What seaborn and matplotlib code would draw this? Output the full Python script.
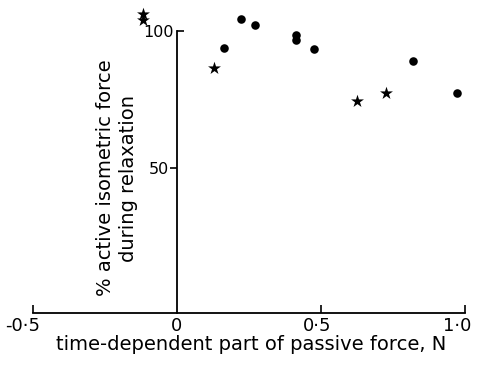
import matplotlib
matplotlib.use("Agg")
import matplotlib.pyplot as plt
import matplotlib.transforms as mtransforms
import seaborn as sns
import pandas as pd
from matplotlib.ticker import FixedLocator, FixedFormatter

# Data
circle_x = [0.163, 0.222, 0.271, 0.413, 0.413, 0.476, 0.819, 0.972]
circle_y = [93.8, 104.4, 102.2, 98.5, 96.7, 93.4, 89.0, 77.4]
star_x = [-0.118, -0.118, 0.128, 0.625, 0.726]
star_y = [106.2, 104.0, 86.5, 74.4, 77.4]

x_ticks = [-0.5, 0.5, 1.0]
x_tick_labels = ["-0·5", "0·5", "1·0"]
y_ticks = [50, 100]
y_tick_labels = ["50", "100"]

x_label = "time-dependent part of passive force, N"
y_label = "% active isometric force\nduring relaxation"

df = pd.DataFrame({
    "x": circle_x + star_x,
    "y": circle_y + star_y,
    "kind": ["circle"] * len(circle_x) + ["star"] * len(star_x),
})

sns.set_style("ticks")
plt.rcParams["font.family"] = ["DejaVu Sans"]
for k in ["text.color", "axes.labelcolor", "xtick.color", "ytick.color",
          "axes.edgecolor"]:
    plt.rcParams[k] = "black"

fig = plt.figure(figsize=(4.78, 3.65), dpi=100)
ax = fig.add_axes([33 / 478, 1 - 313 / 365, 432 / 478, 308 / 365])

sns.scatterplot(data=df[df.kind == "circle"], x="x", y="y", ax=ax,
                marker="o", s=38, color="black", edgecolor="black",
                linewidth=0, legend=False)
sns.scatterplot(data=df[df.kind == "star"], x="x", y="y", ax=ax,
                marker="*", s=95, color="black", edgecolor="black",
                linewidth=0, legend=False)

ymin, ymax = -2.9, 109.5
ax.set_xlim(-0.5, 1.0)
ax.set_ylim(ymin, ymax)

for s in ["top", "right"]:
    ax.spines[s].set_visible(False)
ax.spines["left"].set_position(("data", 0))
ax.spines["left"].set_bounds(ymin, 100)
ax.spines["left"].set_linewidth(1.3)
ax.spines["bottom"].set_linewidth(1.3)

# x ticks (pointing up); "0" label sits where the y axis crosses
ax.xaxis.set_major_locator(FixedLocator(x_ticks))
ax.xaxis.set_major_formatter(FixedFormatter(x_tick_labels))
ax.xaxis.set_minor_locator(FixedLocator([0.0]))
ax.xaxis.set_minor_formatter(FixedFormatter(["0"]))
ax.tick_params(axis="x", which="major", direction="in", length=6, width=1.2)
ax.tick_params(axis="x", which="minor", length=0)
ax.tick_params(axis="x", which="both", labelbottom=True, labelsize=13, pad=3)

# y ticks: 50 pointing out, 100 pointing in
ax.yaxis.set_major_locator(FixedLocator([y_ticks[0]]))
ax.yaxis.set_major_formatter(FixedFormatter([y_tick_labels[0]]))
ax.yaxis.set_minor_locator(FixedLocator([y_ticks[1]]))
ax.yaxis.set_minor_formatter(FixedFormatter([y_tick_labels[1]]))
ax.tick_params(axis="y", which="major", direction="out", length=5, width=1.2,
               labelsize=11.5, pad=1)
ax.tick_params(axis="y", which="minor", direction="in", length=5, width=1.2,
               labelsize=11.5, pad=2)

# small horizontal nudges of x tick labels, as in the reference
for tick, dx in zip(ax.xaxis.get_major_ticks(), [-10, -4, -8]):
    off = mtransforms.ScaledTranslation(dx / 100, 0, fig.dpi_scale_trans)
    tick.label1.set_transform(tick.label1.get_transform() + off)

ax.set_xlabel("")
ax.set_ylabel("")
fig.text(0.5 * (45 + 458) / 478, 1 - 345 / 365, x_label, ha="center",
         va="center", fontsize=14)
fig.text(117 / 478, 1 - 178 / 365, y_label, rotation=90, ha="center",
         va="center", fontsize=14, multialignment="center",
         linespacing=1.3)

fig.savefig("out.png", dpi=100)
